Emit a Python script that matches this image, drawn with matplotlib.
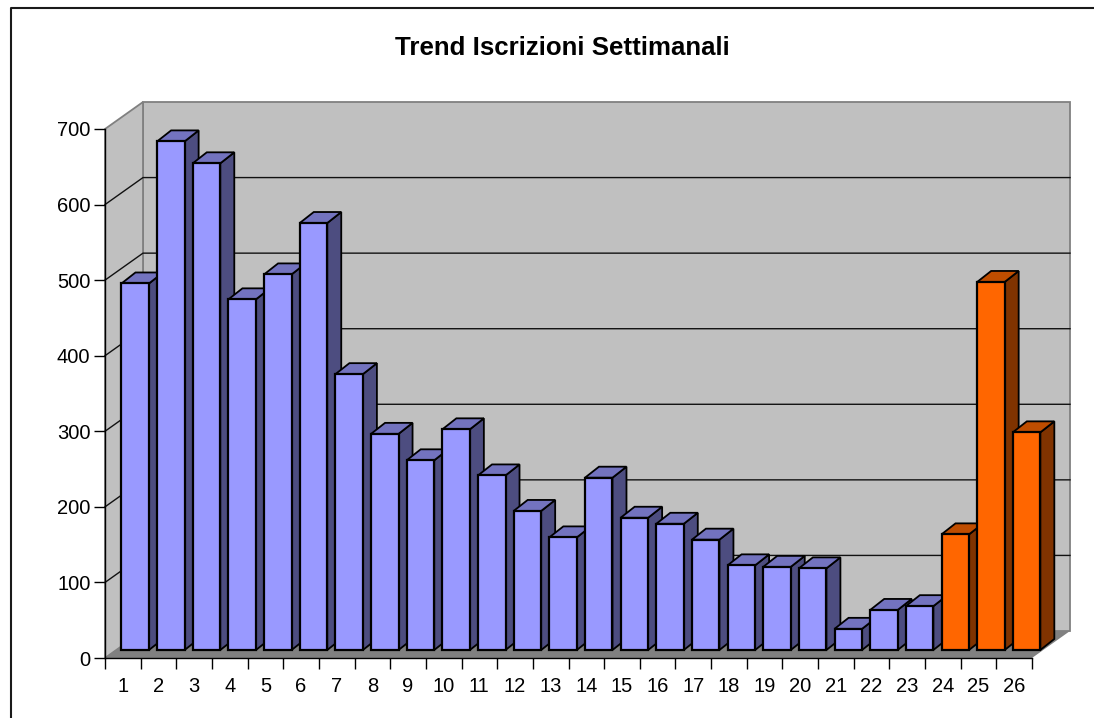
import matplotlib
matplotlib.use('Agg')
import matplotlib.pyplot as plt
from matplotlib.patches import Polygon
from matplotlib.lines import Line2D

plt.rcParams['font.family'] = ['Liberation Sans', 'DejaVu Sans']

TITLE = "Trend Iscrizioni Settimanali"
weeks = list(range(1, 27))
signups = [485, 673, 644, 464, 497, 565, 365, 286, 251, 292, 231, 184, 149,
           228, 175, 167, 146, 112, 110, 108, 28, 53, 58, 153, 487, 288]
y_ticks = [0, 100, 200, 300, 400, 500, 600, 700]
orange_from = 24

W, H = 1094, 718
fig = plt.figure(figsize=(W / 100, H / 100), dpi=100)

# frame around the chart, only top and left are inside the crop
fig.add_artist(Line2D([11 / W, 11 / W, 1.0], [0, 1 - 7.5 / H, 1 - 7.5 / H], transform=fig.transFigure,
                      color='#1a1a1a', lw=1.5, zorder=-1))

# front plane of the fake 3d box, pixels from the reference
left, right, top, bottom = 105, 1032, 129, 658
ax = fig.add_axes([left / W, 1 - bottom / H, (right - left) / W, (bottom - top) / H])
ax.set_xlim(0.5, 26.5)
ax.set_ylim(0, 700)
ax.patch.set_visible(False)

px_x = (right - left) / 26
px_y = (bottom - top) / 700

def xp(p):
    return p / px_x

def yp(p):
    return p / px_y

# depth of the box and of one bar, in data units
box_dx, box_dy = xp(38), yp(27)
bar_dx, bar_dy = xp(14), yp(11)
shift_x, shift_y = xp(12.4), yp(8)
bar_w = xp(27.5)
x0, x1 = 0.5, 26.5

def poly(pts, fc, ec='none', lw=1.0, z=1):
    ax.add_patch(Polygon(pts, closed=True, fc=fc, ec=ec, lw=lw, zorder=z, clip_on=False,
                         joinstyle='miter'))

# back wall, side wall, floor
poly([(x0 + box_dx, box_dy), (x1 + box_dx, box_dy), (x1 + box_dx, 700 + box_dy), (x0 + box_dx, 700 + box_dy)],
     '#C0C0C0', '#808080', 1.3)
poly([(x0, 0), (x0 + box_dx, box_dy), (x0 + box_dx, 700 + box_dy), (x0, 700)], '#C0C0C0', '#808080', 1.3)
poly([(x0, 0), (x1, 0), (x1 + box_dx, box_dy), (x0 + box_dx, box_dy)], '#808080', z=2)

# gridlines run along the side wall then along the back wall, top one is just the wall edge
for v in y_ticks[1:-1]:
    ax.plot([x0, x0 + box_dx, x1 + box_dx], [v, v + box_dy, v + box_dy], color='#111111', lw=1.0,
            zorder=2, clip_on=False)

# bars, left to right so each one covers the side of the previous
for week, v in zip(weeks, signups):
    if week >= orange_from:
        front, lid, side = '#FF6600', '#BF4D00', '#803300'
    else:
        front, lid, side = '#9999FF', '#7373BF', '#4D4D80'
    a = week + shift_x - bar_w / 2
    b = a + bar_w
    base = shift_y
    tip = base + v
    poly([(b, base), (b + bar_dx, base + bar_dy), (b + bar_dx, tip + bar_dy), (b, tip)], side, 'black', 1.3, 3)
    poly([(a, tip), (b, tip), (b + bar_dx, tip + bar_dy), (a + bar_dx, tip + bar_dy)], lid, 'black', 1.3, 3)
    poly([(a, base), (b, base), (b, tip), (a, tip)], front, 'black', 1.6, 3)

for name in ['top', 'right']:
    ax.spines[name].set_visible(False)
for name in ['left', 'bottom']:
    ax.spines[name].set_linewidth(1.0)
    ax.spines[name].set_color('black')
    ax.spines[name].set_zorder(4)

ax.set_yticks(y_ticks)
ax.tick_params(axis='y', length=8, width=1.0, labelsize=14.5, pad=2.5)
ax.set_xticks(weeks)
ax.set_xticklabels([str(w) for w in weeks])
ax.tick_params(axis='x', which='major', length=0, labelsize=14.5, pad=14)
ax.set_xticks([w + 0.5 for w in [0] + weeks], minor=True)
ax.tick_params(axis='x', which='minor', length=8, width=1.0)

fig.text(562 / W, 1 - 48 / H, TITLE, fontsize=18.6, fontweight='bold', ha='center', va='center')

fig.savefig('out.png', dpi=100)
